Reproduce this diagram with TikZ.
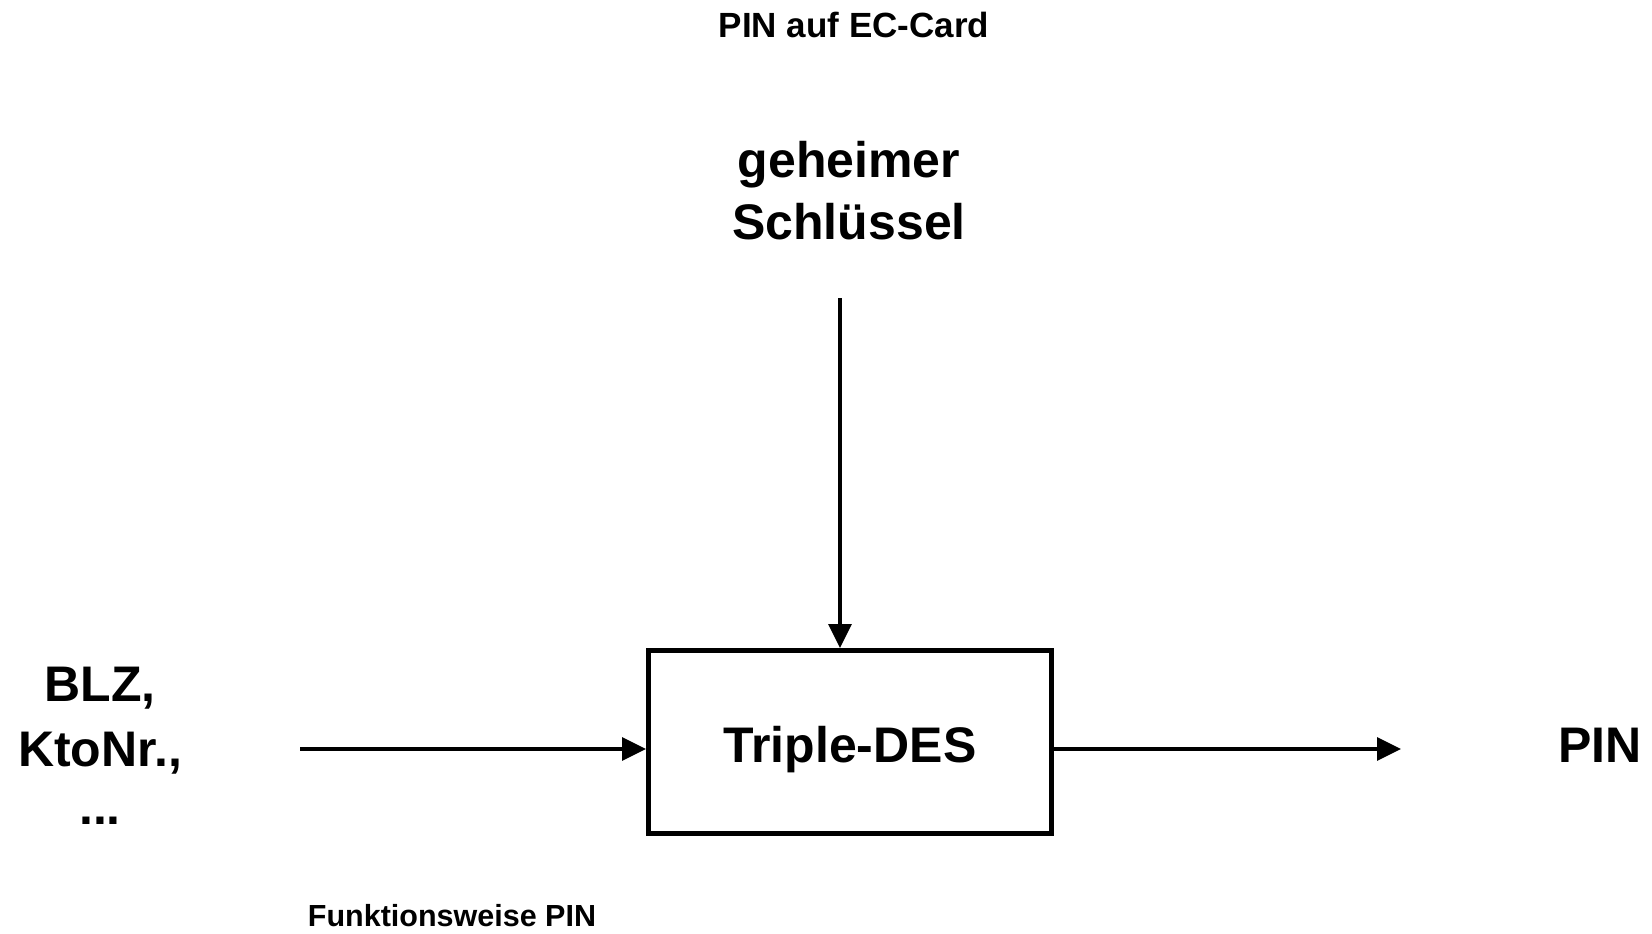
\documentclass[tikz,border=0pt]{standalone}
\usepackage{fontspec}
\setmainfont{Liberation Sans}
\usetikzlibrary{arrows.meta}
\tikzset{
  lbl/.style={inner sep=0pt, anchor=base, align=center, font=\bfseries\fontsize{#1}{62}\selectfont},
  lbl/.default=50,
  flow/.style={line width=3.3pt, -{Triangle[length=24pt,width=23pt]}},
  desbox/.style={draw, line width=5pt, minimum width=403pt, minimum height=183pt,
    inner sep=0pt, text height=40pt, text depth=0pt,
    font=\bfseries\fontsize{50}{60}\selectfont}
}
\begin{document}
\begin{tikzpicture}[x=1pt,y=-1pt]
  \useasboundingbox (0,0) rectangle (1652,934);

  % headline and caption
  \node[lbl=35] (title) at (854,38) {PIN auf EC-Card};
  \node[lbl=30.5] (caption) at (452,926) {Funktionsweise PIN};

  % the cipher block
  \node[desbox] (box) at (850,742) {Triple-DES};

  % inputs and output (multi-line labels sit on their last baseline)
  \node[lbl] (key) at (849,239) {geheimer\\Schlüssel};
  \node[lbl] (data) at (100,824) {BLZ,\\[3pt]KtoNr.,\\[-4pt]...};
  \node[lbl] (pin) at (1600,762) {PIN};

  % connector end points
  \coordinate (keyend) at (840,298);
  \coordinate (dataend) at (300,749);
  \coordinate (pinend) at (1401,749);

  \draw[flow] (keyend) -- (keyend |- box.north);
  \draw[flow] (dataend) -- (dataend -| box.west);
  \draw[flow] (box.east |- pinend) -- (pinend);
\end{tikzpicture}
\end{document}
